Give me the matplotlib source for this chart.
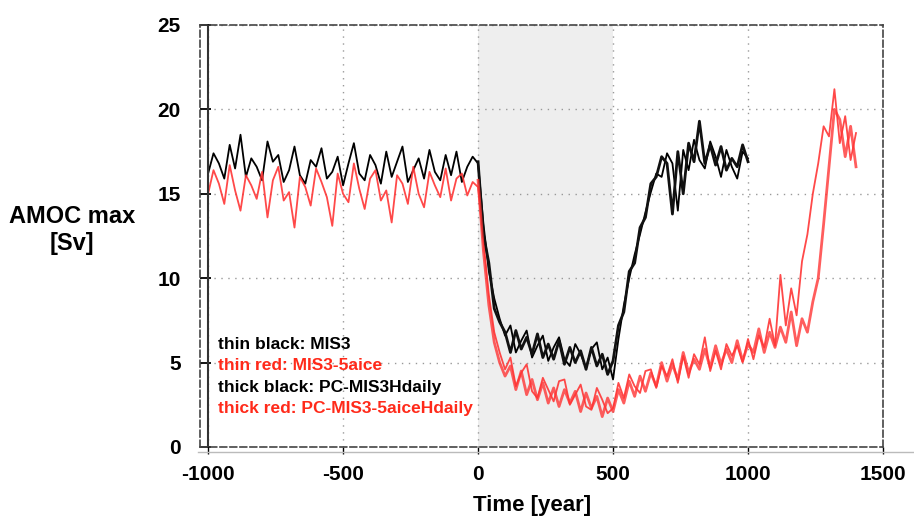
import numpy as np
import matplotlib
matplotlib.use("Agg")
import matplotlib.pyplot as plt
from matplotlib.lines import Line2D

plt.rcParams["font.family"] = ["Liberation Sans", "DejaVu Sans"]
plt.rcParams["font.weight"] = "bold"
plt.rcParams["axes.unicode_minus"] = False

# AMOC max [Sv], one value every 20 years
step = 20

# thin black: MIS3, starts at -1000
mis3_start = -1000
mis3 = [16.2, 17.4, 16.8, 15.9, 17.9, 16.5, 18.5, 16.0, 17.1, 16.6,
        15.8, 18.1, 16.9, 17.3, 15.7, 16.4, 17.8, 16.1, 15.6, 17.0,
        16.6, 17.7, 15.9, 16.3, 17.2, 15.5, 16.8, 18.0, 16.2, 15.8,
        17.3, 16.7, 15.6, 17.5, 16.0, 16.9, 17.8, 15.7, 16.4, 17.1,
        15.9, 17.6, 16.3, 15.8, 17.3, 16.1, 17.5, 15.7, 16.6, 17.2,
        16.8,
        13.2, 10.4, 8.8, 7.6, 6.6, 7.2, 5.6, 6.3, 6.9, 5.3,
        6.0, 6.6, 5.1, 5.9, 6.5, 5.2, 4.8, 6.1, 5.5, 4.7,
        5.8, 6.2, 4.6, 5.3, 4.0, 6.4, 8.4, 10.0, 11.4, 12.6,
        13.9, 15.1, 16.2, 16.0, 17.4, 16.8, 14.0, 17.6, 16.4, 18.2,
        17.0, 16.5, 18.1, 17.2, 16.0, 17.6, 16.6, 15.9, 17.5, 17.1]

# thin red: MIS3-5aice, starts at -1000
mis3_5aice_start = -1000
mis3_5aice = [15.0, 16.4, 15.6, 14.4, 16.7, 15.2, 14.0, 16.1, 15.5, 14.7,
              16.3, 13.6, 15.8, 16.6, 14.6, 15.1, 13.0, 16.0, 15.4, 14.3,
              16.5, 15.7, 14.8, 13.1, 16.2, 15.0, 14.5, 16.8, 15.3, 14.1,
              15.9, 16.4, 14.6, 15.2, 13.3, 16.1, 15.6, 14.4, 16.6, 15.0,
              14.2, 16.3, 15.5, 14.8, 16.5, 14.6, 15.9, 16.2, 14.9, 15.7,
              15.4,
              12.2, 9.0, 6.8, 5.6, 4.6, 5.3, 3.6, 4.4, 4.9, 3.3,
              2.9, 4.1, 3.4, 2.7, 3.9, 4.0, 2.5, 3.1, 3.7, 2.4,
              2.2, 3.5, 2.8, 2.0, 2.3, 3.8, 2.9, 4.3, 3.6, 3.2,
              4.5, 4.6, 3.5, 4.8, 4.2, 5.2, 3.8, 5.4, 4.1, 5.5,
              4.9, 6.5, 4.5, 5.7, 4.6, 6.1, 5.4, 6.0, 5.0, 6.4,
              5.2, 6.6, 5.9, 7.6, 6.0, 10.2, 7.2, 9.4, 7.8, 11.0,
              12.6, 15.0, 16.8, 19.0, 18.4, 21.2, 18.0, 19.6, 17.0, 18.6]

# thick black: PC-MIS3Hdaily, starts at 0
pc_mis3_start = 0
pc_mis3 = [16.9, 12.6, 10.9, 8.2, 7.4, 6.8, 5.6, 6.9, 5.8, 6.5,
           5.5, 6.7, 5.3, 6.1, 5.2, 6.3, 4.9, 5.9, 5.0, 5.7,
           4.6, 5.9, 4.8, 5.5, 4.3, 5.1, 7.2, 8.0, 10.4, 10.9,
           13.0, 13.6, 15.6, 16.0, 17.2, 16.8, 13.8, 17.5, 15.0, 18.0,
           16.9, 19.3, 16.8, 17.9, 16.7, 17.8, 16.4, 17.1, 16.6, 17.9,
           16.9]

# thick red: PC-MIS3-5aiceHdaily, starts at 0
pc_mis3_5aice_start = 0
pc_mis3_5aice = [15.8, 11.6, 8.4, 6.2, 5.0, 4.2, 4.8, 3.4, 4.5, 3.1,
                 4.0, 2.8, 3.8, 2.6, 3.5, 2.4, 3.4, 2.6, 3.3, 2.1,
                 3.2, 2.3, 3.0, 1.8, 2.9, 2.1, 3.4, 2.6, 3.9, 3.0,
                 4.2, 3.3, 4.4, 3.6, 5.0, 3.9, 4.9, 4.0, 5.6, 4.4,
                 5.2, 4.6, 5.8, 4.7, 6.0, 4.9, 5.8, 5.0, 6.3, 5.1,
                 6.1, 5.6, 7.0, 5.6, 6.8, 5.9, 7.1, 6.2, 8.0, 6.0,
                 7.6, 6.8, 8.6, 10.0, 13.2, 16.6, 20.0, 19.4, 17.2, 19.0,
                 16.6]

legend_lines = ["thin black: MIS3", "thin red: MIS3-5aice",
                "thick black: PC-MIS3Hdaily", "thick red: PC-MIS3-5aiceHdaily"]
legend_colors = ["black", "#ff2a1a", "black", "#ff2a1a"]

x_ticks = [-1000, -500, 0, 500, 1000, 1500]
y_ticks = [0, 5, 10, 15, 20, 25]


def years(start, vals):
    return np.arange(start, start + step * len(vals), step)


red = "#ff3535"

fig = plt.figure(figsize=(9.14, 5.19), dpi=100)
ax = fig.add_axes([200 / 914, 1 - 447 / 519, 683 / 914, 422 / 519])

ax.axvspan(0, 500, color="#eeeeee", zorder=0.2, lw=0)

ax.plot(years(mis3_start, mis3), mis3, color="black", lw=1.3, zorder=2)
ax.plot(years(mis3_5aice_start, mis3_5aice), mis3_5aice, color=red, lw=1.3, alpha=0.9, zorder=3)
ax.plot(years(pc_mis3_start, pc_mis3), pc_mis3, color="#111111", lw=2.0, zorder=4)
ax.plot(years(pc_mis3_5aice_start, pc_mis3_5aice), pc_mis3_5aice, color=red, lw=2.0, alpha=0.8, zorder=5)

ax.set_xlim(-1030, 1500)
ax.set_ylim(0, 25)
ax.set_xticks(x_ticks)
ax.set_yticks(y_ticks)
ax.set_axisbelow(True)
ax.grid(True, color="#999999", linestyle=(0, (1, 4)), lw=1.0)

# solid line at x = -1000 inside the dashed frame
ax.axvline(-1000, color="#333333", lw=1.5, zorder=6)

for s in ax.spines.values():
    s.set_linestyle((0, (4, 2)))
    s.set_color("#444444")
    s.set_linewidth(1.2)

ax.tick_params(axis="y", direction="in", length=8, width=1.3, pad=14, labelsize=15)
ax.tick_params(axis="x", direction="out", length=5, width=1.0, pad=8, labelsize=15)
for lab in ax.get_xticklabels() + ax.get_yticklabels():
    lab.set_fontweight("bold")

fig.add_artist(Line2D([198 / 914, 1.0], [1 - 452 / 519, 1 - 452 / 519], color="#bbbbbb", lw=1))

fig.text(72 / 914, 1 - 230 / 519, "AMOC max\n[Sv]", ha="center", va="center",
         fontsize=17, fontweight="bold", linespacing=1.25)
fig.text(532 / 914, 1 - 505 / 519, "Time [year]", ha="center", va="center",
         fontsize=16, fontweight="bold")

ys = [0.242, 0.192, 0.142, 0.092]
for txt, c, yy in zip(legend_lines, legend_colors, ys):
    ax.text(0.026, yy, txt, transform=ax.transAxes, color=c, fontsize=12.5,
            fontweight="bold", va="center", ha="left", zorder=7)

fig.savefig("out.png", dpi=100)
